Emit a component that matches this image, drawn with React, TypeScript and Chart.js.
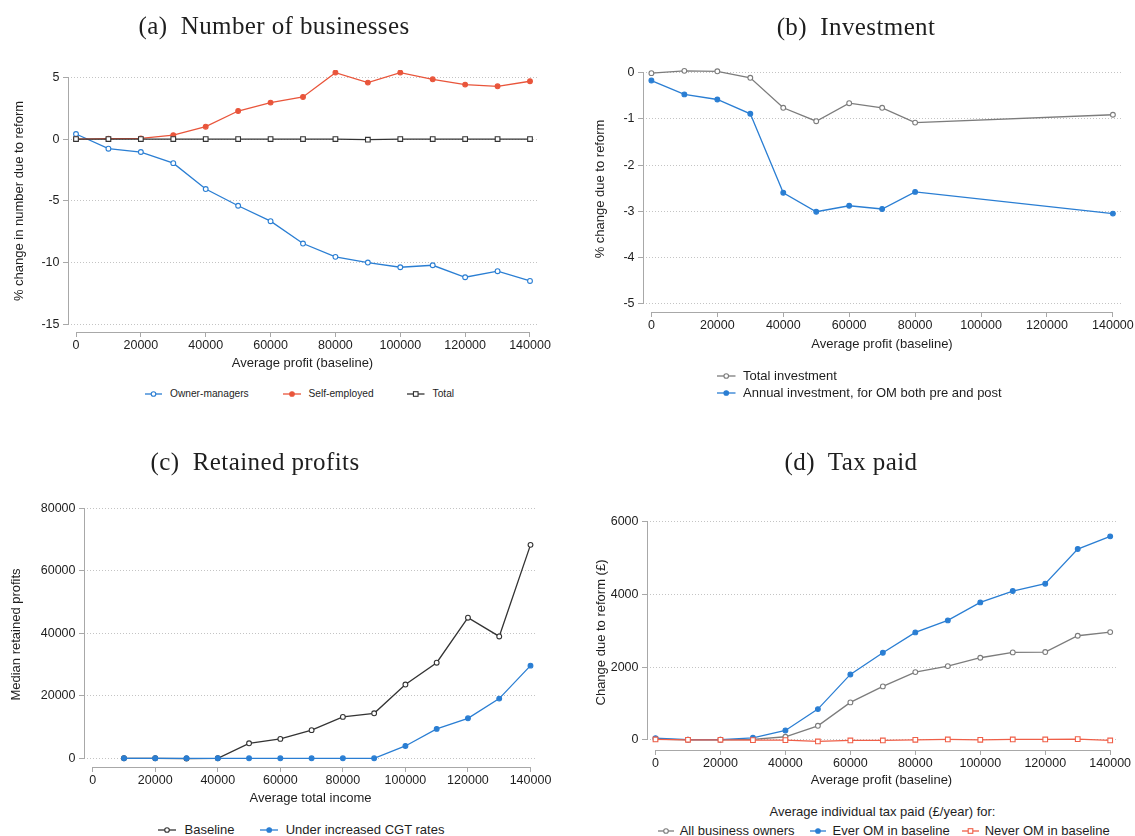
import React, { useEffect, useRef } from "react";
import { Chart, registerables } from "chart.js";

Chart.register(...registerables);

const SANS = '"Liberation Sans", Arial, Helvetica, sans-serif';
const SERIF = '"Liberation Serif", "Times New Roman", serif';
const BLUE = "#2a7ed3";
const RED = "#e9553b";
const RED_LIGHT = "#ef5f48";
const DARK = "#333333";
const GREY = "#7c7c7c";
const AXIS = "#a8a8a8";
const GRID = "#c4c4c4";
const TEXT = "#1e1e1e";

// ---------- (a) Number of businesses ----------
const profitBands = [0, 10000, 20000, 30000, 40000, 50000, 60000, 70000, 80000, 90000, 100000, 110000, 120000, 130000, 140000];
const ownerManagers = [0.41, -0.78, -1.05, -1.95, -4.05, -5.4, -6.65, -8.46, -9.54, -10.0, -10.38, -10.22, -11.19, -10.7, -11.49];
const selfEmployed = [0, 0.03, 0.05, 0.32, 1.0, 2.27, 2.95, 3.41, 5.38, 4.57, 5.38, 4.84, 4.41, 4.27, 4.68];
const totalBusinesses = [0, 0, 0, 0, 0, 0, 0, 0, 0, -0.05, 0, 0, 0, 0, 0];
const profitTicks = [0, 20000, 40000, 60000, 80000, 100000, 120000, 140000];
const businessTicks = [-15, -10, -5, 0, 5];

// ---------- (b) Investment ----------
const investBands = [0, 10000, 20000, 30000, 40000, 50000, 60000, 70000, 80000, 140000];
const totalInvestment = [-0.01, 0.04, 0.03, -0.11, -0.76, -1.05, -0.66, -0.76, -1.08, -0.91];
const annualInvestmentOM = [-0.17, -0.47, -0.58, -0.89, -2.6, -3.01, -2.88, -2.95, -2.58, -3.05];
const investTicks = [-5, -4, -3, -2, -1, 0];

// ---------- (c) Retained profits ----------
const incomeBands = [10000, 20000, 30000, 40000, 50000, 60000, 70000, 80000, 90000, 100000, 110000, 120000, 130000, 140000];
const baselineRetained = [0, 0, -80, 0, 4800, 6200, 9000, 13250, 14400, 23600, 30600, 45000, 39000, 68300];
const cgtRetained = [0, 0, 0, 0, 0, 0, 0, 0, 0, 3950, 9400, 12800, 19100, 29650];
const retainedTicks = [0, 20000, 40000, 60000, 80000];

// ---------- (d) Tax paid ----------
const taxAllOwners = [20, 0, 0, 9, 83, 385, 1028, 1468, 1862, 2027, 2257, 2404, 2413, 2862, 2963];
const taxEverOM = [46, 5, 5, 55, 257, 844, 1798, 2394, 2954, 3284, 3780, 4092, 4294, 5248, 5596];
const taxNeverOM = [10, 0, 0, -9, -9, -46, -18, -18, 0, 9, 0, 9, 9, 18, -18];
const taxTicks = [0, 2000, 4000, 6000];

type Marker = "dot" | "ring" | "square";
interface SeriesSpec { label: string; values: number[]; color: string; marker: Marker; order?: number; }
interface LegendSpec { x1: number; x2: number; textX: number; y: number; }
interface PanelSpec {
  box: { left: number; top: number; width: number; height: number };
  area: { left: number; top: number; right: number; bottom: number };
  xs: number[];
  xRange: [number, number];
  yRange: [number, number];
  xTicks: number[];
  yTicks: number[];
  xTitle: string;
  yTitle: string;
  xTitlePad: number;
  yTitlePad: number;
  series: SeriesSpec[];
  title: { text: string; cx: number; cy: number };
  legend: LegendSpec[];
  legendFont: number;
  legendTitle?: { text: string; cx: number; cy: number };
}

const panels: PanelSpec[] = [
  {
    box: { left: 0, top: 40, width: 567, height: 340 },
    area: { left: 68, top: 30, right: 537, bottom: 292 },
    xs: profitBands,
    xRange: [-2467, 142159],
    yRange: [-15.623, 5.591],
    xTicks: profitTicks,
    yTicks: businessTicks,
    xTitle: "Average profit (baseline)",
    yTitle: "% change in number due to reform",
    xTitlePad: 9.2,
    yTitlePad: 11.7,
    series: [
      { label: "Owner-managers", values: ownerManagers, color: BLUE, marker: "ring", order: 2 },
      { label: "Self-employed", values: selfEmployed, color: RED, marker: "dot", order: 1 },
      { label: "Total", values: totalBusinesses, color: DARK, marker: "square", order: 0 },
    ],
    title: { text: "(a)  Number of businesses", cx: 274, cy: 26 },
    legend: [
      { x1: 145, x2: 162, textX: 170, y: 394 },
      { x1: 283, x2: 301, textX: 308.5, y: 394 },
      { x1: 407, x2: 424.5, textX: 432.6, y: 394 },
    ],
    legendFont: 10.2,
  },
  {
    box: { left: 567, top: 40, width: 568, height: 330 },
    area: { left: 76, top: 26, right: 554, bottom: 272 },
    xs: investBands,
    xRange: [-2548, 142457],
    yRange: [-5.18, 0.145],
    xTicks: profitTicks,
    yTicks: investTicks,
    xTitle: "Average profit (baseline)",
    yTitle: "% change due to reform",
    xTitlePad: 18.2,
    yTitlePad: 25.7,
    series: [
      { label: "Total investment", values: totalInvestment, color: GREY, marker: "ring", order: 1 },
      { label: "Annual investment, for OM both pre and post", values: annualInvestmentOM, color: BLUE, marker: "dot", order: 0 },
    ],
    title: { text: "(b)  Investment", cx: 856, cy: 27 },
    legend: [
      { x1: 717, x2: 735.5, textX: 743, y: 375.7 },
      { x1: 717, x2: 735.5, textX: 743, y: 393.3 },
    ],
    legendFont: 13,
  },
  {
    box: { left: 0, top: 470, width: 567, height: 340 },
    area: { left: 84, top: 32, right: 537, bottom: 297 },
    xs: incomeBands,
    xRange: [-2782, 142079],
    yRange: [-2784, 82016],
    xTicks: profitTicks,
    yTicks: retainedTicks,
    xTitle: "Average total income",
    yTitle: "Median retained profits",
    xTitlePad: 3.9,
    yTitlePad: 8.2,
    series: [
      { label: "Baseline", values: baselineRetained, color: DARK, marker: "ring", order: 1 },
      { label: "Under increased CGT rates", values: cgtRetained, color: BLUE, marker: "dot", order: 0 },
    ],
    title: { text: "(c)  Retained profits", cx: 255, cy: 462 },
    legend: [
      { x1: 158, x2: 176, textX: 184.6, y: 830 },
      { x1: 259.6, x2: 278, textX: 285.7, y: 830 },
    ],
    legendFont: 13,
  },
  {
    box: { left: 567, top: 470, width: 568, height: 330 },
    area: { left: 80, top: 45, right: 549, bottom: 280 },
    xs: profitBands,
    xRange: [-2617, 141786],
    yRange: [-281, 6184],
    xTicks: profitTicks,
    yTicks: taxTicks,
    xTitle: "Average profit (baseline)",
    yTitle: "Change due to reform (£)",
    xTitlePad: 11.5,
    yTitlePad: 26.9,
    series: [
      { label: "All business owners", values: taxAllOwners, color: GREY, marker: "ring", order: 2 },
      { label: "Ever OM in baseline", values: taxEverOM, color: BLUE, marker: "dot", order: 1 },
      { label: "Never OM in baseline", values: taxNeverOM, color: RED_LIGHT, marker: "square", order: 0 },
    ],
    title: { text: "(d)  Tax paid", cx: 851, cy: 462 },
    legend: [
      { x1: 658, x2: 674, textX: 679.7, y: 830.7 },
      { x1: 810, x2: 826, textX: 832.6, y: 830.7 },
      { x1: 962, x2: 979, textX: 984.7, y: 830.7 },
    ],
    legendFont: 13,
    legendTitle: { text: "Average individual tax paid (£/year) for:", cx: 882.5, cy: 811.7 },
  },
];

const stataAxes = {
  id: "stataAxes",
  beforeDatasetsDraw(chart: any) {
    const { ctx, chartArea } = chart;
    const xs = chart.scales.x;
    const ys = chart.scales.y;
    const al = (p: number) => Math.round(p - 0.5) + 0.5;
    const xt = xs.ticks;
    const yt = ys.ticks;
    ctx.save();
    ctx.strokeStyle = AXIS;
    ctx.lineWidth = 1;
    ctx.setLineDash([]);
    ctx.beginPath();
    const lx = al(chartArea.left);
    ctx.moveTo(lx, al(ys.getPixelForValue(yt[0].value)) + 0.5);
    ctx.lineTo(lx, al(ys.getPixelForValue(yt[yt.length - 1].value)) - 0.5);
    const by = al(chartArea.bottom);
    ctx.moveTo(al(xs.getPixelForValue(xt[0].value)) - 0.5, by);
    ctx.lineTo(al(xs.getPixelForValue(xt[xt.length - 1].value)) + 0.5, by);
    ctx.stroke();
    ctx.restore();
  },
};

function buildConfig(spec: PanelSpec): any {
  const tickFont = { family: SANS, size: 12.5 };
  const titleFont = { family: SANS, size: 13 };
  const H = spec.box.height;
  const W = spec.box.width;
  return {
    type: "line",
    data: {
      datasets: spec.series.map((s) => ({
        label: s.label,
        data: spec.xs.map((x, i) => ({ x, y: s.values[i] })),
        borderColor: s.color,
        backgroundColor: s.color,
        borderWidth: 1.3,
        pointStyle: s.marker === "square" ? "rect" : "circle",
        pointRadius: s.marker === "square" ? 3.3 : 2.4,
        pointBackgroundColor: s.marker === "dot" ? s.color : "#ffffff",
        pointBorderColor: s.color,
        pointBorderWidth: 1.1,
        tension: 0,
        fill: false,
        order: s.order ?? 0,
      })),
    },
    options: {
      responsive: false,
      animation: false,
      devicePixelRatio: 1,
      events: [],
      layout: {
        padding: { left: 0, top: spec.area.top, right: W - spec.area.right, bottom: 0 },
      },
      plugins: {
        legend: { display: false },
        tooltip: { enabled: false },
        title: { display: false },
      },
      scales: {
        x: {
          type: "linear",
          position: "bottom",
          bounds: "data",
          min: spec.xRange[0],
          max: spec.xRange[1],
          afterBuildTicks: (s: any) => {
            s.ticks = spec.xTicks.map((v) => ({ value: v }));
          },
          afterFit: (s: any) => {
            s.height = H - spec.area.bottom;
            s.paddingLeft = 0;
            s.paddingRight = 0;
          },
          grid: {
            display: true,
            drawOnChartArea: false,
            drawTicks: true,
            tickLength: 5,
            tickColor: AXIS,
            tickWidth: 1,
          },
          border: { display: false },
          ticks: {
            color: TEXT,
            font: tickFont,
            padding: 1,
            maxRotation: 0,
            minRotation: 0,
            autoSkip: false,
            callback: (v: any) => String(v),
          },
          title: {
            display: true,
            text: spec.xTitle,
            color: TEXT,
            font: titleFont,
            padding: { top: 0, bottom: spec.xTitlePad },
          },
        },
        y: {
          type: "linear",
          position: "left",
          bounds: "data",
          min: spec.yRange[0],
          max: spec.yRange[1],
          afterBuildTicks: (s: any) => {
            s.ticks = spec.yTicks.map((v) => ({ value: v }));
          },
          afterFit: (s: any) => {
            s.width = spec.area.left;
            s.paddingTop = 0;
            s.paddingBottom = 0;
          },
          grid: {
            display: true,
            drawOnChartArea: true,
            color: GRID,
            lineWidth: 1,
            drawTicks: true,
            tickLength: 5,
            tickColor: AXIS,
            tickWidth: 1,
            tickBorderDash: [],
          },
          border: { display: false, dash: [1, 2] },
          ticks: {
            color: TEXT,
            font: tickFont,
            padding: 3.5,
            autoSkip: false,
            callback: (v: any) => String(v),
          },
          title: {
            display: true,
            text: spec.yTitle,
            color: TEXT,
            font: titleFont,
            padding: { top: spec.yTitlePad, bottom: 0 },
          },
        },
      },
    },
    plugins: [stataAxes],
  };
}

function ChartPanel({ spec }: { spec: PanelSpec }) {
  const ref = useRef<HTMLCanvasElement>(null);
  useEffect(() => {
    const chart = new Chart(ref.current as HTMLCanvasElement, buildConfig(spec));
    return () => chart.destroy();
  }, [spec]);
  return (
    <canvas
      ref={ref}
      width={spec.box.width}
      height={spec.box.height}
      style={{
        position: "absolute",
        left: spec.box.left,
        top: spec.box.top,
        width: spec.box.width,
        height: spec.box.height,
      }}
    />
  );
}

function LegendKey({ x1, x2, y, color, marker }: { x1: number; x2: number; y: number; color: string; marker: Marker }) {
  const w = x2 - x1;
  return (
    <svg style={{ position: "absolute", left: x1, top: y - 5 }} width={w} height={10}>
      <line x1={0} y1={5} x2={w} y2={5} stroke={color} strokeWidth={1.3} />
      {marker === "square" ? (
        <rect x={w / 2 - 2.3} y={2.7} width={4.6} height={4.6} fill="#ffffff" stroke={color} strokeWidth={1.1} />
      ) : (
        <circle cx={w / 2} cy={5} r={2.3} fill={marker === "dot" ? color : "#ffffff"} stroke={color} strokeWidth={1.1} />
      )}
    </svg>
  );
}

function PanelDecor({ spec }: { spec: PanelSpec }) {
  return (
    <>
      <div
        style={{
          position: "absolute",
          left: spec.title.cx,
          top: spec.title.cy,
          transform: "translate(-50%, -50%)",
          fontFamily: SERIF,
          fontSize: 25,
          letterSpacing: "0.4px",
          lineHeight: 1.2,
          whiteSpace: "pre",
          color: TEXT,
        }}
      >
        {spec.title.text}
      </div>
      {spec.legendTitle && (
        <div
          style={{
            position: "absolute",
            left: spec.legendTitle.cx,
            top: spec.legendTitle.cy,
            transform: "translate(-50%, -50%)",
            fontFamily: SANS,
            fontSize: 13,
            lineHeight: 1.15,
            whiteSpace: "nowrap",
            color: TEXT,
          }}
        >
          {spec.legendTitle.text}
        </div>
      )}
      {spec.legend.map((l, i) => {
        const s = spec.series[i];
        return (
          <React.Fragment key={i}>
            <LegendKey x1={l.x1} x2={l.x2} y={l.y} color={s.color} marker={s.marker} />
            <div
              style={{
                position: "absolute",
                left: l.textX,
                top: l.y,
                transform: "translateY(-50%)",
                fontFamily: SANS,
                fontSize: spec.legendFont,
                lineHeight: 1.15,
                whiteSpace: "nowrap",
                color: TEXT,
              }}
            >
              {s.label}
            </div>
          </React.Fragment>
        );
      })}
    </>
  );
}

export default function App() {
  return (
    <div
      style={{
        position: "absolute",
        left: 0,
        top: 0,
        width: 1135,
        height: 836,
        background: "#ffffff",
        overflow: "hidden",
      }}
    >
      {panels.map((p, i) => (
        <ChartPanel key={"c" + i} spec={p} />
      ))}
      {panels.map((p, i) => (
        <PanelDecor key={"d" + i} spec={p} />
      ))}
    </div>
  );
}
